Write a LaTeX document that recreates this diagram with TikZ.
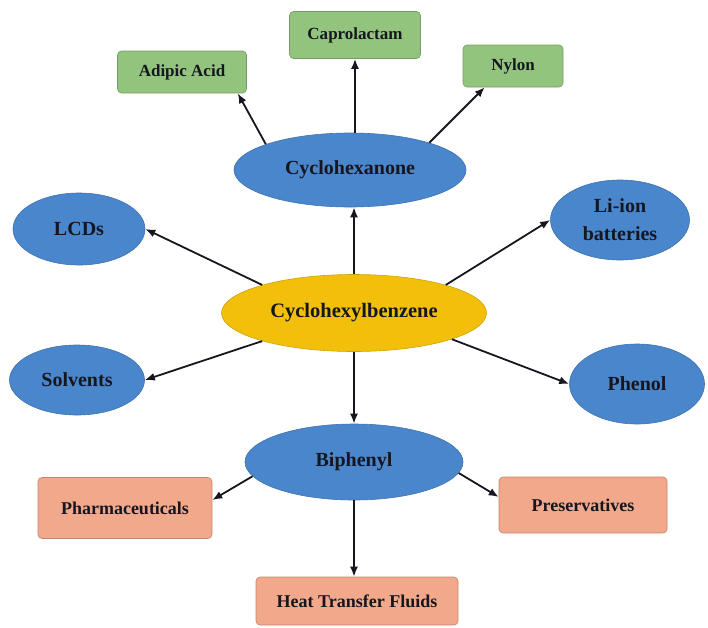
\documentclass[tikz,border=0pt]{standalone}
\usepackage{fontspec}
\setmainfont{Liberation Serif}
\usetikzlibrary{shapes.geometric,arrows.meta}

\definecolor{ovalblue}{RGB}{74,134,204}
\definecolor{ovalgold}{RGB}{242,192,10}
\definecolor{leafgreen}{RGB}{147,196,125}
\definecolor{salmon}{RGB}{242,168,138}
\definecolor{ink}{RGB}{22,22,32}

\tikzset{
  oval/.style={ellipse, draw=ovalblue!85!black, fill=ovalblue, line width=0.6pt,
    inner sep=0pt, align=center, text=ink, font=\bfseries\fontsize{20}{28}\selectfont},
  hub/.style={oval, draw=ovalgold!85!black, fill=ovalgold, font=\bfseries\fontsize{20.5}{24}\selectfont},
  greenbox/.style={rectangle, rounded corners=4pt, draw=leafgreen!80!black, fill=leafgreen,
    line width=0.6pt, inner sep=0pt, text=ink, font=\bfseries\fontsize{17}{20}\selectfont},
  pinkbox/.style={greenbox, draw=salmon!80!black, fill=salmon, font=\bfseries\fontsize{18}{21}\selectfont},
  arr/.style={-{Latex[length=10pt,width=8pt]}, line width=1.8pt, draw=ink}
}

\begin{document}
\begin{tikzpicture}[x=1pt, y=-1pt]
    \useasboundingbox (0,0) rectangle (708,627);

    % centre and the first ring
    \node[hub, minimum width=265, minimum height=77] (cb) at (354,313) {Cyclohexylbenzene};
    \node[oval, minimum width=232, minimum height=74] (ck) at (350,170) {Cyclohexanone};
    \node[oval, minimum width=218, minimum height=76] (bp) at (354,462) {Biphenyl};
    \node[oval, minimum width=132, minimum height=72] (lcd) at (79,229) {LCDs};
    \node[oval, minimum width=139, minimum height=80] (li) at (620,220) {Li-ion\\batteries};
    \node[oval, minimum width=135, minimum height=70] (solv) at (77,380) {Solvents};
    \node[oval, minimum width=135, minimum height=80] (phen) at (637,384) {Phenol};

    % products of cyclohexanone
    \node[greenbox, minimum width=131, minimum height=47] (cap) at (355,35) {Caprolactam};
    \node[greenbox, minimum width=129, minimum height=42] (ad) at (182,72) {Adipic Acid};
    \node[greenbox, minimum width=100, minimum height=42] (ny) at (513,66) {Nylon};

    % products of biphenyl
    \node[pinkbox, minimum width=174, minimum height=61] (pharm) at (125,508) {Pharmaceuticals};
    \node[pinkbox, minimum width=168, minimum height=56] (pres) at (583,505) {Preservatives};
    \node[pinkbox, minimum width=202, minimum height=48] (heat) at (357,601) {Heat Transfer Fluids};

    \draw[arr] (cb.north) -- (cb.north |- ck.south);
    \draw[arr] (cb.163) -- (lcd.east);
    \draw[arr] (cb.17) -- (li.west);
    \draw[arr] (cb.197) -- (solv.east);
    \draw[arr] (cb.345) -- (phen.west);
    \draw[arr] (cb.south) -- (cb.south |- bp.north);

    \draw[arr] (ck.north -| cap.south) -- (cap.south);
    \draw[arr] (ck.163) -- ([xshift=-9pt]ad.south east);
    \draw[arr] (ck.19) -- ([xshift=22pt]ny.south west);

    \draw[arr] (bp.188) -- ([yshift=8pt]pharm.east);
    \draw[arr] (bp.354) -- ([yshift=8pt]pres.west);
    \draw[arr] (bp.south) -- (bp.south |- heat.north);
\end{tikzpicture}
\end{document}
